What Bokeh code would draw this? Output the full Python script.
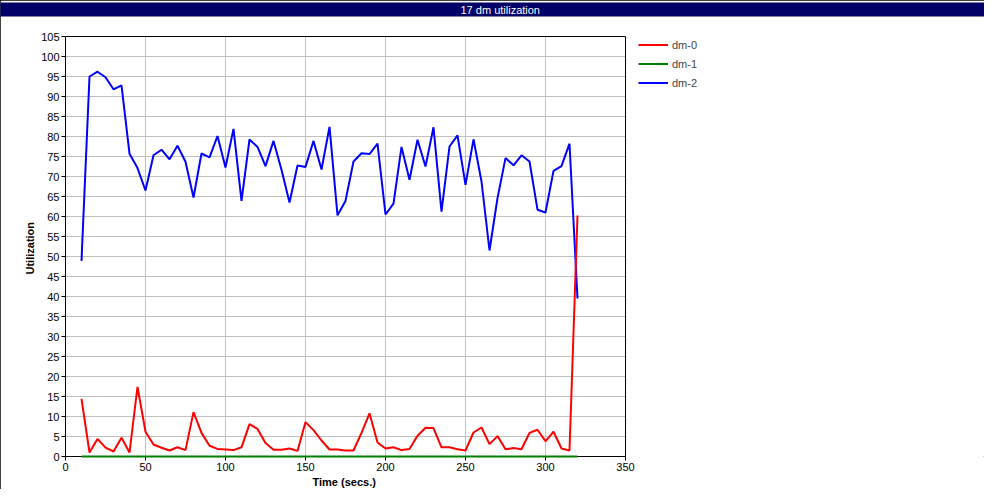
from bokeh.plotting import figure
from bokeh.models import (Range1d, FixedTicker, Legend, LegendItem, ColumnDataSource, Title)
from bokeh.embed import file_html
from bokeh.resources import INLINE

title_text = "17 dm utilization"
x_label = "Time (secs.)"
y_label = "Utilization"
series_names = ["dm-0", "dm-1", "dm-2"]
series_colors = ["#ff0000", "#008000", "#0000ff"]
x_ticks = [0, 50, 100, 150, 200, 250, 300, 350]
y_ticks = [0, 5, 10, 15, 20, 25, 30, 35, 40, 45, 50, 55, 60, 65, 70, 75, 80, 85, 90, 95,
           100, 105]

time = [10, 15, 20, 25, 30, 35, 40, 45, 50, 55, 60, 65, 70, 75, 80, 85, 90, 95, 100,
        105, 110, 115, 120, 125, 130, 135, 140, 145, 150, 155, 160, 165, 170, 175, 180,
        185, 190, 195, 200, 205, 210, 215, 220, 225, 230, 235, 240, 245, 250, 255, 260,
        265, 270, 275, 280, 285, 290, 295, 300, 305, 310, 315, 320]

dm0 = [14.4, 1.0, 4.4, 2.2, 1.25, 4.7, 1.0, 17.4, 6.2, 3.0, 2.2, 1.5, 2.3, 1.6, 11.1,
       5.9, 2.7, 1.9, 1.75, 1.6, 2.3, 8.1, 6.9, 3.4, 1.7, 1.7, 2.0, 1.4, 8.6, 6.6, 4.0,
       1.75, 1.75, 1.5, 1.5, 5.9, 10.8, 3.5, 2.0, 2.3, 1.6, 1.9, 5.2, 7.2, 7.1, 2.3, 2.3,
       1.8, 1.5, 6.0, 7.25, 3.1, 5.1, 1.8, 2.1, 1.8, 5.9, 6.7, 3.8, 6.2, 2.0, 1.5, 60.25]

dm1 = [0.0, 0.0, 0.0, 0.0, 0.0, 0.0, 0.0, 0.0, 0.0, 0.0, 0.0, 0.0, 0.0, 0.0, 0.0, 0.0,
       0.0, 0.0, 0.0, 0.0, 0.0, 0.0, 0.0, 0.0, 0.0, 0.0, 0.0, 0.0, 0.0, 0.0, 0.0, 0.0,
       0.0, 0.0, 0.0, 0.0, 0.0, 0.0, 0.0, 0.0, 0.0, 0.0, 0.0, 0.0, 0.0, 0.0, 0.0, 0.0,
       0.0, 0.0, 0.0, 0.0, 0.0, 0.0, 0.0, 0.0, 0.0, 0.0, 0.0, 0.0, 0.0, 0.0, 0.0]

dm2 = [48.9, 95.0, 96.2, 94.8, 91.8, 92.8, 75.7, 72.1, 66.5, 75.3, 76.7, 74.3, 77.7,
       73.7, 64.75, 75.75, 74.8, 80.1, 72.25, 81.9, 63.9, 79.25, 77.4, 72.6, 78.9, 71.7,
       63.5, 72.75, 72.4, 78.9, 71.75, 82.4, 60.3, 63.9, 73.75, 75.8, 75.6, 78.2, 60.5,
       63.2, 77.4, 69.2, 79.2, 72.5, 82.3, 61.2, 77.5, 80.3, 67.9, 79.3, 68.75, 51.5,
       64.6, 74.6, 72.8, 75.3, 73.75, 61.7, 61.0, 71.4, 72.6, 78.2, 39.5]

FONT = "Liberation Sans"
W, H = 984, 488
LEFT, BOTTOM = 65, 33          # left / bottom borders (axes)
PLOT_W, PLOT_H = 560, 420      # visible plot box
TITLE_H = 15                   # title band height
FRAME_W = W - LEFT             # frame runs to the right edge (room for the legend)
FRAME_H = H - BOTTOM - TITLE_H  # frame runs up to the title band
TITLE_X = 460                  # left edge of the title text on the canvas

x_lo, x_hi = x_ticks[0], x_ticks[-1]
y_lo, y_hi = y_ticks[0], y_ticks[-1]
x_end = x_lo + (x_hi - x_lo) * FRAME_W / PLOT_W
y_end = y_lo + (y_hi - y_lo) * FRAME_H / PLOT_H

p = figure(frame_width=FRAME_W, frame_height=FRAME_H,
           x_range=Range1d(x_lo, x_end), y_range=Range1d(y_lo, y_end),
           toolbar_location=None, output_backend="svg", title=None,
           min_border_left=LEFT, min_border_right=0, min_border_top=0,
           min_border_bottom=BOTTOM)
p.outline_line_color = None
p.background_fill_color = "white"
p.border_fill_color = "white"
p.styles = {"outline": "1px solid black", "outline-offset": "-1px"}

# title band: the padded box starts at the canvas left edge, text near the centre
p.title = Title(text=title_text, align="left", offset=-LEFT,
                standoff=0, vertical_align="bottom",
                text_color="white", text_font=FONT, text_font_size="11px",
                text_font_style="normal", background_fill_color="#000066",
                padding=dict(left=TITLE_X, right=W - TITLE_X, top=1, bottom=1))

p.xaxis.ticker = FixedTicker(ticks=x_ticks)
p.yaxis.ticker = FixedTicker(ticks=y_ticks)
p.xaxis.bounds = (x_lo, x_hi)
p.yaxis.bounds = (y_lo, y_hi)
for ax in (p.xaxis[0], p.yaxis[0]):
    ax.axis_line_color = "black"
    ax.major_tick_line_color = "black"
    ax.major_tick_out = 4
    ax.major_tick_in = 0
    ax.minor_tick_line_color = None
    ax.major_label_text_font = FONT
    ax.major_label_text_font_size = "11px"
    ax.major_label_text_color = "black"
p.xaxis.major_label_standoff = 2
p.yaxis.major_label_standoff = 2

# axis titles, placed under / beside the plot box rather than the (wider) frame
p.add_layout(Title(text=x_label, align="left", offset=312 - LEFT,
                   standoff=0, text_font=FONT, text_font_size="11px",
                   text_font_style="bold", text_color="black"), "below")
p.add_layout(Title(text=y_label, align="left", offset=182,
                   standoff=6, text_font=FONT, text_font_size="11px",
                   text_font_style="bold", text_color="black"), "left")

p.xgrid.grid_line_color = "#c0c0c0"
p.ygrid.grid_line_color = "#c0c0c0"
p.xgrid.grid_line_width = 1
p.ygrid.grid_line_width = 1

# white masks keep the grid inside the plot box; then the box outline
p.quad(left=[x_hi], right=[x_end], bottom=[y_lo], top=[y_end],
       fill_color="white", line_color=None)
p.quad(left=[x_lo], right=[x_end], bottom=[y_hi], top=[y_end],
       fill_color="white", line_color=None)
p.quad(left=[x_lo], right=[x_hi], bottom=[y_lo], top=[y_hi],
       fill_color=None, line_color="black", line_width=1)

src = ColumnDataSource(dict(time=time, dm0=dm0, dm1=dm1, dm2=dm2))
r2 = p.line("time", "dm2", source=src, line_color=series_colors[2], line_width=2)
r0 = p.line("time", "dm0", source=src, line_color=series_colors[0], line_width=2)
r1 = p.line("time", "dm1", source=src, line_color=series_colors[1], line_width=2,
            level="overlay")

legend = Legend(items=[LegendItem(label=series_names[0], renderers=[r0]),
                       LegendItem(label=series_names[1], renderers=[r1]),
                       LegendItem(label=series_names[2], renderers=[r2])],
                location=(PLOT_W + 13, PLOT_H - 55), orientation="vertical",
                border_line_color=None, background_fill_alpha=0,
                glyph_width=30, glyph_height=17, label_height=17, label_standoff=4,
                spacing=2, padding=0, margin=0,
                label_text_font=FONT, label_text_font_size="11px")
p.add_layout(legend)

open("out.html", "w").write(file_html(p, INLINE))
